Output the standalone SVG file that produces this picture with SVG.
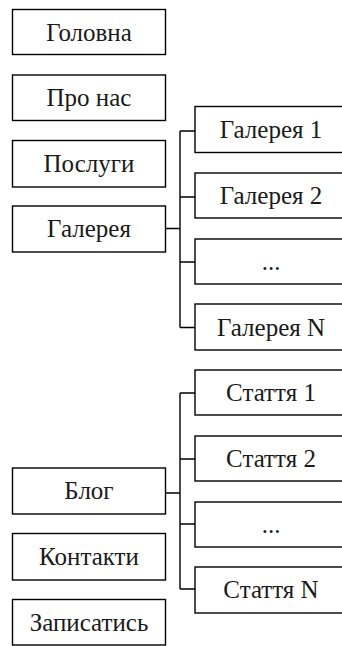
<svg xmlns="http://www.w3.org/2000/svg" width="342" height="646" viewBox="0 0 342 646" font-family="'Liberation Serif', 'DejaVu Serif', serif">
<style>
.box{fill:#fff;stroke:#000;stroke-width:1.4}
.t{font-family:'Liberation Serif','DejaVu Serif',serif;font-size:25px;fill:#1a1a1a;text-anchor:middle}
.c{fill:none;stroke:#000;stroke-width:1.4}
</style>
<rect width="342" height="646" fill="#fff"/>
<g id="connectors">
<path class="c" d="M166 228.5H180M180 131V327.5M180 131H195M180 197H195M180 262H195M180 327.5H195"/>
<path class="c" d="M166 493H180M180 393V589M180 393H195M180 459H195M180 524H195M180 589H195"/>
</g>
<g id="n-golovna"><rect class="box" x="12.5" y="9.5" width="153" height="45"/><text class="t" x="89" y="40.5">Головна</text></g>
<g id="n-pronas"><rect class="box" x="12.5" y="75" width="153" height="45.5"/><text class="t" x="89" y="106">Про нас</text></g>
<g id="n-poslugy"><rect class="box" x="12.5" y="140.5" width="153" height="46.5"/><text class="t" x="89" y="172">Послуги</text></g>
<g id="n-galereya"><rect class="box" x="12.5" y="206" width="153" height="46"/><text class="t" x="89" y="237">Галерея</text></g>
<g id="n-g1"><rect class="box" x="195" y="106.5" width="154" height="46"/><text class="t" x="271" y="137.5">Галерея 1</text></g>
<g id="n-g2"><rect class="box" x="195" y="173" width="154" height="45"/><text class="t" x="271" y="203.5">Галерея 2</text></g>
<g id="n-gdots"><rect class="box" x="195" y="239" width="154" height="45"/><text class="t" x="271" y="269.5">...</text></g>
<g id="n-gN"><rect class="box" x="195" y="304" width="154" height="46"/><text class="t" x="271" y="335.5">Галерея N</text></g>
<g id="n-s1"><rect class="box" x="195" y="370" width="154" height="45"/><text class="t" x="271" y="400.5">Стаття 1</text></g>
<g id="n-s2"><rect class="box" x="195" y="436" width="154" height="45"/><text class="t" x="271" y="466.5">Стаття 2</text></g>
<g id="n-sdots"><rect class="box" x="195" y="502" width="154" height="45"/><text class="t" x="271" y="532.5">...</text></g>
<g id="n-sN"><rect class="box" x="195" y="567" width="154" height="46"/><text class="t" x="271" y="598">Стаття N</text></g>
<g id="n-blog"><rect class="box" x="12.5" y="468" width="153" height="46"/><text class="t" x="89" y="499">Блог</text></g>
<g id="n-kontakty"><rect class="box" x="12.5" y="533.5" width="153" height="46.5"/><text class="t" x="89" y="564.5">Контакти</text></g>
<g id="n-zapys"><rect class="box" x="12.5" y="599.5" width="153" height="45.5"/><text class="t" x="89" y="630.5">Записатись</text></g>
</svg>
